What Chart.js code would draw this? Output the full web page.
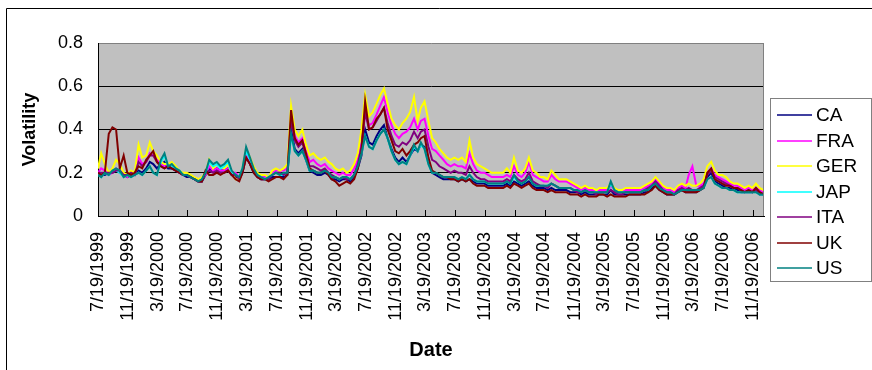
<!DOCTYPE html>
<html>
<head>
<meta charset="utf-8">
<title>Volatility</title>
<script src="https://cdn.jsdelivr.net/npm/chart.js@4.4.1/dist/chart.umd.min.js"></script>
<style>
  html, body { margin: 0; padding: 0; background: #fff; }
  #chart { display: block; }
</style>
</head>
<body>
<canvas id="chart" width="872" height="370"></canvas>
<script>
// Semi-monthly observation dates
const dates = [
  "1999-07-19","1999-08-01","1999-08-16","1999-09-01","1999-09-16","1999-10-01","1999-10-16","1999-11-01","1999-11-16","1999-12-01","1999-12-16",
  "2000-01-01","2000-01-16","2000-02-01","2000-02-16","2000-03-01","2000-03-16","2000-04-01","2000-04-16","2000-05-01","2000-05-16","2000-06-01","2000-06-16","2000-07-01","2000-07-16","2000-08-01","2000-08-16","2000-09-01","2000-09-16","2000-10-01","2000-10-16","2000-11-01","2000-11-16","2000-12-01","2000-12-16",
  "2001-01-01","2001-01-16","2001-02-01","2001-02-16","2001-03-01","2001-03-16","2001-04-01","2001-04-16","2001-05-01","2001-05-16","2001-06-01","2001-06-16","2001-07-01","2001-07-16","2001-08-01","2001-08-16","2001-09-01","2001-09-16","2001-10-01","2001-10-16","2001-11-01","2001-11-16","2001-12-01","2001-12-16",
  "2002-01-01","2002-01-16","2002-02-01","2002-02-16","2002-03-01","2002-03-16","2002-04-01","2002-04-16","2002-05-01","2002-05-16","2002-06-01","2002-06-16","2002-07-01","2002-07-16","2002-08-01","2002-08-16","2002-09-01","2002-09-16","2002-10-01","2002-10-16","2002-11-01","2002-11-16","2002-12-01","2002-12-16",
  "2003-01-01","2003-01-16","2003-02-01","2003-02-16","2003-03-01","2003-03-16","2003-04-01","2003-04-16","2003-05-01","2003-05-16","2003-06-01","2003-06-16","2003-07-01","2003-07-16","2003-08-01","2003-08-16","2003-09-01","2003-09-16","2003-10-01","2003-10-16","2003-11-01","2003-11-16","2003-12-01","2003-12-16",
  "2004-01-01","2004-01-16","2004-02-01","2004-02-16","2004-03-01","2004-03-16","2004-04-01","2004-04-16","2004-05-01","2004-05-16","2004-06-01","2004-06-16","2004-07-01","2004-07-16","2004-08-01","2004-08-16","2004-09-01","2004-09-16","2004-10-01","2004-10-16","2004-11-01","2004-11-16","2004-12-01","2004-12-16",
  "2005-01-01","2005-01-16","2005-02-01","2005-02-16","2005-03-01","2005-03-16","2005-04-01","2005-04-16","2005-05-01","2005-05-16","2005-06-01","2005-06-16","2005-07-01","2005-07-16","2005-08-01","2005-08-16","2005-09-01","2005-09-16","2005-10-01","2005-10-16","2005-11-01","2005-11-16","2005-12-01","2005-12-16",
  "2006-01-01","2006-01-16","2006-02-01","2006-02-16","2006-03-01","2006-03-16","2006-04-01","2006-04-16","2006-05-01","2006-05-16","2006-06-01","2006-06-16","2006-07-01","2006-07-16","2006-08-01","2006-08-16","2006-09-01","2006-09-16","2006-10-01","2006-10-16","2006-11-01","2006-11-16","2006-12-01","2006-12-16",
  "2007-01-01"
];

const CA = [
  0.19,0.19,0.19,0.20,0.20,0.21,0.20,0.19,0.18,0.19,0.19,
  0.21,0.20,0.22,0.25,0.24,0.22,0.24,0.25,0.22,0.22,0.21,0.20,0.19,0.18,0.18,0.17,0.16,0.16,0.19,0.22,0.21,0.22,0.21,0.21,
  0.22,0.19,0.18,0.17,0.20,0.28,0.24,0.20,0.18,0.17,0.17,0.17,0.18,0.18,0.18,0.18,0.19,0.40,0.31,0.29,0.31,0.26,0.21,0.20,
  0.19,0.19,0.20,0.19,0.17,0.17,0.16,0.17,0.17,0.16,0.18,0.22,0.28,0.40,0.34,0.33,0.37,0.40,0.42,0.36,0.31,0.27,0.25,0.27,
  0.25,0.28,0.31,0.30,0.33,0.32,0.25,0.20,0.19,0.18,0.17,0.17,0.17,0.17,0.16,0.17,0.16,0.17,0.16,0.15,0.15,0.15,0.14,0.14,
  0.14,0.14,0.14,0.15,0.14,0.16,0.15,0.14,0.15,0.16,0.14,0.13,0.13,0.13,0.12,0.13,0.12,0.12,0.12,0.12,0.11,0.11,0.11,0.10,
  0.11,0.10,0.10,0.10,0.10,0.10,0.10,0.12,0.10,0.10,0.10,0.10,0.10,0.10,0.10,0.10,0.11,0.11,0.13,0.14,0.12,0.11,0.10,0.10,
  0.10,0.11,0.12,0.11,0.11,0.11,0.11,0.12,0.13,0.18,0.20,0.16,0.15,0.14,0.13,0.13,0.12,0.12,0.11,0.11,0.11,0.11,0.12,0.10,
  0.10
];
const FRA = [
  0.20,0.22,0.21,0.19,0.20,0.22,0.21,0.19,0.18,0.20,0.19,
  0.27,0.24,0.25,0.29,0.28,0.26,0.24,0.23,0.23,0.23,0.22,0.20,0.19,0.19,0.18,0.17,0.16,0.17,0.19,0.23,0.21,0.22,0.21,0.21,
  0.22,0.20,0.20,0.18,0.21,0.28,0.25,0.22,0.19,0.18,0.18,0.18,0.20,0.21,0.21,0.21,0.22,0.46,0.37,0.34,0.36,0.30,0.25,0.26,
  0.24,0.23,0.24,0.22,0.21,0.20,0.19,0.20,0.19,0.19,0.22,0.26,0.34,0.47,0.42,0.43,0.47,0.51,0.55,0.48,0.42,0.38,0.36,0.38,
  0.39,0.41,0.45,0.40,0.44,0.45,0.37,0.31,0.30,0.28,0.26,0.24,0.23,0.24,0.23,0.23,0.22,0.29,0.24,0.21,0.20,0.20,0.19,0.18,
  0.18,0.18,0.18,0.19,0.18,0.23,0.19,0.18,0.20,0.25,0.19,0.18,0.17,0.16,0.16,0.19,0.17,0.16,0.16,0.16,0.15,0.14,0.13,0.12,
  0.13,0.12,0.12,0.11,0.12,0.12,0.12,0.14,0.12,0.11,0.11,0.12,0.12,0.12,0.12,0.12,0.13,0.14,0.15,0.17,0.15,0.13,0.12,0.12,
  0.11,0.13,0.14,0.13,0.19,0.23,0.14,0.14,0.15,0.20,0.22,0.19,0.18,0.17,0.16,0.15,0.14,0.14,0.13,0.12,0.13,0.12,0.13,0.12,
  0.11
];
const GER = [
  0.22,0.29,0.24,0.20,0.22,0.26,0.24,0.20,0.19,0.21,0.20,
  0.33,0.27,0.28,0.34,0.30,0.28,0.25,0.24,0.24,0.25,0.23,0.21,0.20,0.20,0.19,0.18,0.17,0.18,0.20,0.26,0.22,0.24,0.23,0.22,
  0.24,0.20,0.17,0.17,0.22,0.31,0.27,0.23,0.20,0.19,0.19,0.18,0.21,0.22,0.21,0.22,0.24,0.51,0.40,0.37,0.40,0.33,0.28,0.29,
  0.27,0.26,0.27,0.25,0.24,0.22,0.21,0.22,0.20,0.21,0.24,0.29,0.40,0.56,0.46,0.48,0.52,0.56,0.59,0.52,0.45,0.42,0.40,0.43,
  0.45,0.48,0.55,0.44,0.50,0.53,0.44,0.36,0.34,0.31,0.29,0.27,0.26,0.27,0.26,0.27,0.25,0.35,0.27,0.24,0.23,0.22,0.21,0.20,
  0.20,0.20,0.20,0.22,0.20,0.27,0.21,0.20,0.22,0.27,0.21,0.20,0.18,0.18,0.17,0.21,0.19,0.17,0.17,0.17,0.16,0.15,0.14,0.13,
  0.14,0.13,0.13,0.12,0.13,0.13,0.13,0.15,0.13,0.12,0.12,0.13,0.13,0.13,0.13,0.13,0.14,0.15,0.16,0.18,0.16,0.14,0.13,0.13,
  0.12,0.14,0.15,0.14,0.15,0.14,0.14,0.15,0.17,0.23,0.25,0.21,0.19,0.19,0.18,0.16,0.15,0.15,0.14,0.13,0.14,0.13,0.15,0.13,
  0.12
];
const JAP = [
  0.19,0.18,0.20,0.19,0.21,0.21,0.20,0.18,0.19,0.18,0.19,
  0.20,0.19,0.21,0.23,0.20,0.19,0.25,0.28,0.23,0.23,0.22,0.21,0.19,0.19,0.18,0.17,0.16,0.17,0.20,0.25,0.23,0.24,0.22,0.23,
  0.25,0.20,0.19,0.18,0.22,0.30,0.26,0.21,0.19,0.18,0.17,0.18,0.19,0.20,0.19,0.19,0.20,0.37,0.30,0.28,0.30,0.26,0.21,0.21,
  0.20,0.20,0.21,0.20,0.18,0.18,0.17,0.18,0.18,0.17,0.19,0.23,0.29,0.37,0.32,0.31,0.35,0.38,0.40,0.36,0.30,0.26,0.24,0.25,
  0.24,0.28,0.32,0.30,0.33,0.31,0.24,0.20,0.20,0.19,0.18,0.18,0.18,0.18,0.17,0.18,0.17,0.19,0.17,0.16,0.16,0.16,0.15,0.15,
  0.15,0.15,0.15,0.16,0.15,0.18,0.16,0.15,0.16,0.18,0.15,0.14,0.14,0.14,0.14,0.15,0.14,0.13,0.13,0.13,0.13,0.12,0.12,0.11,
  0.12,0.11,0.11,0.11,0.11,0.11,0.11,0.15,0.12,0.11,0.11,0.11,0.11,0.11,0.11,0.11,0.12,0.12,0.14,0.15,0.13,0.12,0.11,0.11,
  0.10,0.11,0.12,0.12,0.12,0.12,0.12,0.12,0.13,0.17,0.18,0.15,0.14,0.13,0.13,0.12,0.12,0.11,0.11,0.11,0.11,0.11,0.11,0.10,
  0.10
];
const ITA = [
  0.20,0.20,0.20,0.20,0.20,0.21,0.21,0.19,0.19,0.20,0.19,
  0.25,0.23,0.25,0.28,0.28,0.25,0.23,0.22,0.23,0.22,0.21,0.20,0.19,0.19,0.18,0.17,0.16,0.16,0.20,0.21,0.20,0.21,0.20,0.20,
  0.21,0.19,0.19,0.17,0.20,0.27,0.24,0.21,0.18,0.17,0.17,0.17,0.19,0.20,0.20,0.19,0.20,0.45,0.35,0.32,0.34,0.28,0.23,0.23,
  0.22,0.21,0.22,0.20,0.19,0.18,0.17,0.18,0.17,0.17,0.19,0.24,0.32,0.48,0.40,0.41,0.44,0.47,0.50,0.43,0.37,0.33,0.32,0.34,
  0.33,0.35,0.39,0.36,0.39,0.40,0.32,0.26,0.25,0.23,0.22,0.21,0.20,0.21,0.20,0.20,0.19,0.23,0.20,0.18,0.17,0.17,0.16,0.16,
  0.16,0.16,0.16,0.17,0.16,0.19,0.17,0.16,0.17,0.20,0.16,0.15,0.14,0.14,0.13,0.15,0.14,0.13,0.13,0.13,0.13,0.12,0.11,0.11,
  0.12,0.11,0.11,0.10,0.11,0.11,0.11,0.12,0.11,0.10,0.10,0.11,0.11,0.11,0.11,0.11,0.12,0.13,0.14,0.16,0.14,0.12,0.11,0.11,
  0.10,0.12,0.13,0.12,0.13,0.12,0.12,0.13,0.14,0.19,0.21,0.18,0.17,0.16,0.15,0.14,0.13,0.13,0.12,0.11,0.12,0.11,0.12,0.11,
  0.10
];
const UK = [
  0.20,0.19,0.20,0.38,0.41,0.40,0.22,0.28,0.20,0.19,0.20,
  0.23,0.22,0.26,0.28,0.30,0.25,0.23,0.22,0.23,0.22,0.21,0.20,0.19,0.19,0.18,0.17,0.16,0.16,0.21,0.19,0.19,0.20,0.19,0.20,
  0.21,0.19,0.17,0.16,0.20,0.27,0.24,0.20,0.18,0.17,0.17,0.16,0.17,0.18,0.18,0.17,0.19,0.49,0.36,0.33,0.35,0.29,0.22,0.21,
  0.20,0.20,0.21,0.19,0.17,0.16,0.14,0.15,0.16,0.15,0.17,0.22,0.30,0.53,0.40,0.41,0.45,0.47,0.50,0.40,0.35,0.30,0.29,0.31,
  0.28,0.30,0.33,0.34,0.36,0.37,0.27,0.21,0.20,0.19,0.18,0.18,0.17,0.17,0.16,0.17,0.16,0.17,0.15,0.14,0.14,0.14,0.13,0.13,
  0.13,0.13,0.13,0.14,0.13,0.15,0.14,0.13,0.14,0.15,0.13,0.12,0.12,0.12,0.11,0.12,0.11,0.11,0.11,0.11,0.10,0.10,0.10,0.09,
  0.10,0.09,0.09,0.09,0.10,0.10,0.09,0.10,0.09,0.09,0.09,0.09,0.10,0.10,0.10,0.10,0.10,0.11,0.12,0.14,0.12,0.11,0.10,0.10,
  0.10,0.11,0.12,0.11,0.11,0.11,0.11,0.12,0.13,0.20,0.22,0.17,0.16,0.15,0.14,0.14,0.13,0.13,0.12,0.11,0.12,0.11,0.13,0.11,
  0.10
];
const US = [
  0.19,0.18,0.20,0.19,0.21,0.22,0.21,0.18,0.19,0.18,0.19,
  0.20,0.19,0.21,0.23,0.20,0.19,0.26,0.29,0.23,0.24,0.22,0.21,0.19,0.19,0.18,0.17,0.16,0.17,0.20,0.26,0.24,0.25,0.23,0.24,
  0.26,0.21,0.19,0.18,0.22,0.32,0.27,0.22,0.19,0.18,0.17,0.18,0.19,0.20,0.19,0.20,0.20,0.38,0.30,0.28,0.30,0.26,0.21,0.21,
  0.20,0.20,0.21,0.20,0.18,0.18,0.17,0.18,0.18,0.17,0.19,0.23,0.29,0.37,0.32,0.31,0.35,0.38,0.40,0.36,0.30,0.26,0.24,0.25,
  0.24,0.28,0.33,0.30,0.34,0.31,0.24,0.20,0.20,0.19,0.18,0.18,0.18,0.18,0.17,0.18,0.17,0.19,0.17,0.16,0.16,0.16,0.15,0.15,
  0.15,0.15,0.15,0.16,0.15,0.19,0.16,0.15,0.16,0.18,0.15,0.14,0.14,0.14,0.14,0.15,0.14,0.13,0.13,0.13,0.13,0.12,0.12,0.11,
  0.12,0.11,0.11,0.11,0.11,0.11,0.11,0.16,0.12,0.11,0.11,0.11,0.11,0.11,0.11,0.11,0.12,0.12,0.14,0.15,0.13,0.12,0.11,0.11,
  0.10,0.11,0.12,0.12,0.12,0.12,0.12,0.12,0.13,0.17,0.18,0.15,0.14,0.13,0.13,0.12,0.12,0.11,0.11,0.11,0.11,0.11,0.11,0.10,
  0.10
];

const seriesNames = ["CA", "FRA", "GER", "JAP", "ITA", "UK", "US"];
const seriesValues = [CA, FRA, GER, JAP, ITA, UK, US];
const seriesColors = ["#000080", "#FF00FF", "#FFFF00", "#00FFFF", "#800080", "#800000", "#008080"];

// Date-axis labels, every four months
const tickLabels = [
  "7/19/1999","11/19/1999","3/19/2000","7/19/2000","11/19/2000","3/19/2001","7/19/2001","11/19/2001",
  "3/19/2002","7/19/2002","11/19/2002","3/19/2003","7/19/2003","11/19/2003","3/19/2004","7/19/2004",
  "11/19/2004","3/19/2005","7/19/2005","11/19/2005","3/19/2006","7/19/2006","11/19/2006"
];
const yTicks = [0, 0.2, 0.4, 0.6, 0.8];
const axisEnd = "2007-01-03";

// Day counts relative to the first observation
const DAY = 86400000;
const origin = Date.UTC(1999, 6, 19);
function isoDay(s) { const [y, m, d] = s.split("-").map(Number); return (Date.UTC(y, m - 1, d) - origin) / DAY; }
function usDay(s) { const [m, d, y] = s.split("/").map(Number); return (Date.UTC(y, m - 1, d) - origin) / DAY; }
const tickDays = tickLabels.map(usDay);
const labelByDay = new Map(tickDays.map((d, i) => [d, tickLabels[i]]));

const FONT = '"Liberation Sans", Arial, sans-serif';

const datasets = seriesNames.map((name, i) => ({
  label: name,
  data: dates.map((d, k) => ({ x: isoDay(d), y: seriesValues[i][k] })),
  borderColor: seriesColors[i],
  backgroundColor: seriesColors[i],
  borderWidth: 2,
  borderJoinStyle: "miter",
  pointRadius: 0,
  tension: 0,
  fill: false,
  order: seriesNames.length - 1 - i   // later series are painted on top
}));

// Plot background, outer frame, inward date ticks and plot edge
const excelFrame = {
  id: "excelFrame",
  beforeDraw(chart) {
    const { ctx, chartArea: a } = chart;
    ctx.save();
    ctx.fillStyle = "#ffffff";
    ctx.fillRect(0, 0, chart.width, chart.height);
    ctx.fillStyle = "#c0c0c0";
    ctx.fillRect(a.left, a.top, a.right - a.left, a.bottom - a.top);
    ctx.strokeStyle = "#000000";
    ctx.lineWidth = 1;
    ctx.beginPath();
    ctx.moveTo(6.5, chart.height);
    ctx.lineTo(6.5, 8.5);
    ctx.lineTo(chart.width, 8.5);
    ctx.stroke();
    ctx.restore();
  },
  afterDatasetsDraw(chart) {
    const { ctx, chartArea: a } = chart;
    const xs = chart.scales.x;
    ctx.save();
    ctx.strokeStyle = "#000000";
    ctx.lineWidth = 1;
    ctx.beginPath();
    xs.ticks.forEach(t => {
      const px = Math.round(xs.getPixelForValue(t.value)) + 0.5;
      ctx.moveTo(px, a.bottom);
      ctx.lineTo(px, a.bottom - 6);
    });
    ctx.stroke();
    ctx.strokeStyle = "#808080";
    ctx.beginPath();
    ctx.moveTo(Math.round(a.right) - 0.5, a.top);
    ctx.lineTo(Math.round(a.right) - 0.5, a.bottom);
    ctx.stroke();
    ctx.restore();
  }
};

// Boxed series key to the right of the plot
const seriesKey = {
  id: "seriesKey",
  afterDraw(chart) {
    const { ctx, chartArea: a } = chart;
    const left = Math.round(a.right) + 6;
    const top = 98;
    const width = chart.width - left - 1;
    const height = 183;
    const rowStep = 25.5;
    ctx.save();
    ctx.fillStyle = "#ffffff";
    ctx.fillRect(left, top, width, height);
    ctx.strokeStyle = "#808080";
    ctx.lineWidth = 1;
    ctx.strokeRect(left + 0.5, top + 0.5, width, height);
    ctx.font = '19px ' + FONT;
    ctx.textAlign = "left";
    ctx.textBaseline = "middle";
    seriesNames.forEach((name, i) => {
      const cy = top + 17 + i * rowStep;
      const ly = Math.round(cy);
      ctx.strokeStyle = seriesColors[i];
      ctx.lineWidth = 1.5;
      ctx.beginPath();
      ctx.moveTo(left + 7, ly);
      ctx.lineTo(left + 42, ly);
      ctx.stroke();
      ctx.fillStyle = "#000000";
      ctx.fillText(name, left + 46, cy + 1);
    });
    ctx.restore();
  }
};

new Chart(document.getElementById("chart"), {
  type: "line",
  data: { datasets },
  plugins: [excelFrame, seriesKey],
  options: {
    responsive: false,
    devicePixelRatio: 1,
    animation: false,
    events: [],
    layout: { padding: { left: 0, top: 43, right: 108, bottom: 0 } },
    plugins: { legend: { display: false }, tooltip: { enabled: false } },
    scales: {
      x: {
        type: "linear",
        min: 0,
        max: isoDay(axisEnd),
        afterFit(s) { s.height = 154; },
        afterBuildTicks(s) { s.ticks = tickDays.map(v => ({ value: v })); },
        grid: { display: false, drawTicks: false },
        border: { display: true, color: "#000000", width: 1 },
        ticks: {
          autoSkip: false,
          minRotation: 90,
          maxRotation: 90,
          padding: 16,
          color: "#000000",
          font: { family: FONT, size: 18 },
          callback: v => labelByDay.get(v) ?? ""
        },
        title: {
          display: true,
          text: "Date",
          color: "#000000",
          font: { family: FONT, size: 20, weight: "bold" },
          padding: { top: 0, bottom: 8 }
        }
      },
      y: {
        min: 0,
        max: 0.8,
        afterFit(s) { s.width = 98; },
        afterBuildTicks(s) { s.ticks = yTicks.map(v => ({ value: v })); },
        grid: {
          drawTicks: false,
          color: c => (c.tick && c.tick.value >= 0.79) ? "#808080" : "#000000",
          lineWidth: 1
        },
        border: { display: true, color: "#000000", width: 1 },
        ticks: {
          padding: 15,
          color: "#000000",
          font: { family: FONT, size: 18 },
          callback: v => String(v)
        },
        title: {
          display: true,
          text: "Volatility",
          color: "#000000",
          font: { family: FONT, size: 18, weight: "bold" },
          padding: { top: 19, bottom: 0 }
        }
      }
    }
  }
});
</script>
</body>
</html>
